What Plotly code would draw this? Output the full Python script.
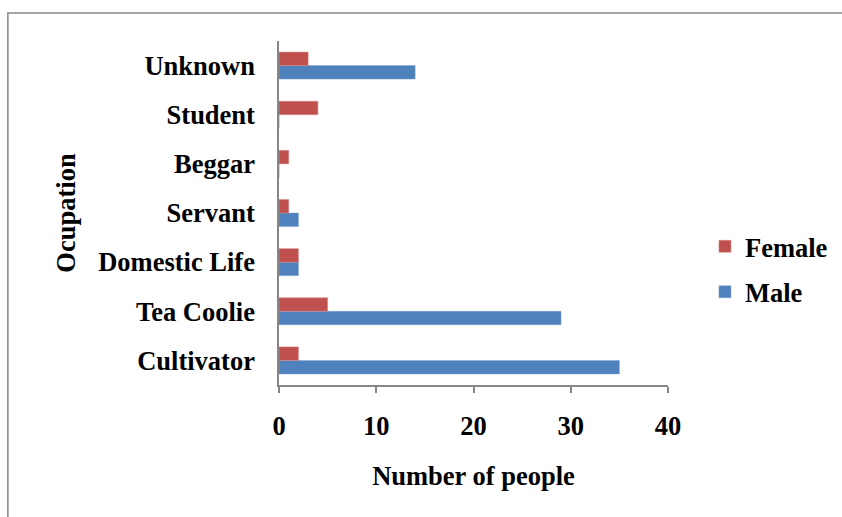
import plotly.graph_objects as go

# Occupation counts by sex
categories = ["Cultivator", "Tea Coolie", "Domestic Life", "Servant", "Beggar", "Student", "Unknown"]
male = [35, 29, 2, 2, 0, 0, 14]
female = [2, 5, 2, 1, 1, 4, 3]
x_ticks = [0, 10, 20, 30, 40]

FONT = "Liberation Serif"
FS = 26.5
BLUE = "#4F81BD"
RED = "#C0504D"

fig = go.Figure()
fig.add_trace(go.Bar(
    y=categories, x=male, name="Male", orientation="h",
    legendgroup="m", legendrank=2,
    marker=dict(color=BLUE, line=dict(color="#7FA3D0", width=0.5)),
))
fig.add_trace(go.Bar(
    y=categories, x=female, name="Female", orientation="h",
    legendgroup="f", legendrank=1,
    marker=dict(color=RED, line=dict(color="#D88A88", width=0.5)),
))

bold = dict(family=FONT, size=FS, color="black", weight="bold")

fig.update_layout(
    width=842, height=517,
    margin=dict(l=279, r=174, t=41, b=132, autoexpand=False),
    paper_bgcolor="white", plot_bgcolor="white",
    barmode="group", bargap=0.45, bargroupgap=0,
    font=bold,
    showlegend=True,
    legend=dict(
        traceorder="grouped", x=1.095, y=0.337, xanchor="left", yanchor="middle",
        font=bold, itemwidth=30, tracegroupgap=8, bgcolor="rgba(0,0,0,0)",
    ),
    xaxis=dict(
        range=[0, 40], tickvals=x_ticks, showgrid=False, zeroline=False,
        showline=True, linecolor="#868686", linewidth=1.5, automargin=False,
        ticks="outside", ticklen=6, tickcolor="#868686", tickwidth=1.5,
        ticklabelstandoff=10, tickfont=bold,
        title=dict(text="Number of people", standoff=27, font=bold),
    ),
    yaxis=dict(
        showgrid=False, zeroline=False, automargin=False,
        showline=True, linecolor="#868686", linewidth=1.5,
        ticks="", ticklabelstandoff=17, tickfont=bold,
        title=dict(text="Ocupation", standoff=15, font=bold),
    ),
    shapes=[dict(
        type="rect", xref="paper", yref="paper",
        x0=-0.697, x1=1.47, y0=-0.41, y1=1.0814,
        line=dict(color="#868686", width=1.5), fillcolor="rgba(0,0,0,0)",
        layer="below",
    )],
)

fig.write_html("out.html")
